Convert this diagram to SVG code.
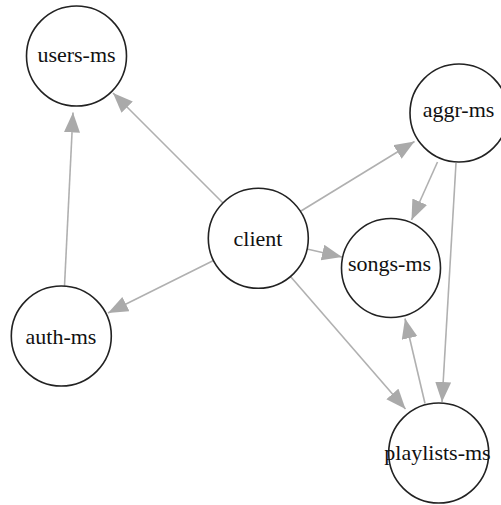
<svg xmlns="http://www.w3.org/2000/svg" width="501" height="505" viewBox="0 0 501 505">
  <style>
    .node circle { fill: #ffffff; stroke: #222222; stroke-width: 1.6; }
    .node text { font-family: 'Liberation Serif', 'DejaVu Serif', serif; font-size: 22px; fill: #111111; text-anchor: middle; }
    .edge { stroke: #b0b0b0; stroke-width: 1.6; fill: none; marker-end: url(#arrow); }
  </style>
  <defs>
    <marker id="arrow" markerUnits="userSpaceOnUse" markerWidth="22" markerHeight="18" refX="20" refY="8" orient="auto">
      <path d="M0,0 L20,8 L0,16 Z" fill="#aaaaaa"/>
    </marker>
  </defs>
  <rect width="501" height="505" fill="#ffffff"/>

  <g id="edges">
    <path class="edge" d="M223,203 L113,93"/>
    <path class="edge" d="M64.5,286 L73,112.5"/>
    <path class="edge" d="M301,211 L414.5,141.5"/>
    <path class="edge" d="M307,249 L342,257"/>
    <path class="edge" d="M213.5,260.5 L108,313"/>
    <path class="edge" d="M290.5,276.6 L405.5,409"/>
    <path class="edge" d="M437.5,162 L411.5,220"/>
    <path class="edge" d="M456,163 L442,402"/>
    <path class="edge" d="M425,403.5 L405,318.5"/>
  </g>

  <!-- node labels use a Times-metric serif face -->
  <g id="users-ms" class="node">
    <circle cx="76.5" cy="56" r="50"/>
    <text x="76.5" y="62" font-family="Liberation Serif, serif">users-ms</text>
  </g>
  <g id="aggr-ms" class="node">
    <circle cx="459" cy="113" r="49"/>
    <text x="458.5" y="117" font-family="Liberation Serif, serif">aggr-ms</text>
  </g>
  <g id="client" class="node">
    <circle cx="258.3" cy="238.3" r="50"/>
    <text x="258" y="246" font-family="Liberation Serif, serif">client</text>
  </g>
  <g id="songs-ms" class="node">
    <circle cx="391" cy="268" r="49.5"/>
    <text x="389.5" y="271" font-family="Liberation Serif, serif">songs-ms</text>
  </g>
  <g id="auth-ms" class="node">
    <circle cx="61.3" cy="336" r="50"/>
    <text x="61" y="344" font-family="Liberation Serif, serif">auth-ms</text>
  </g>
  <g id="playlists-ms" class="node">
    <circle cx="438.7" cy="453" r="50"/>
    <text x="437.5" y="460" font-family="Liberation Serif, serif">playlists-ms</text>
  </g>
</svg>
